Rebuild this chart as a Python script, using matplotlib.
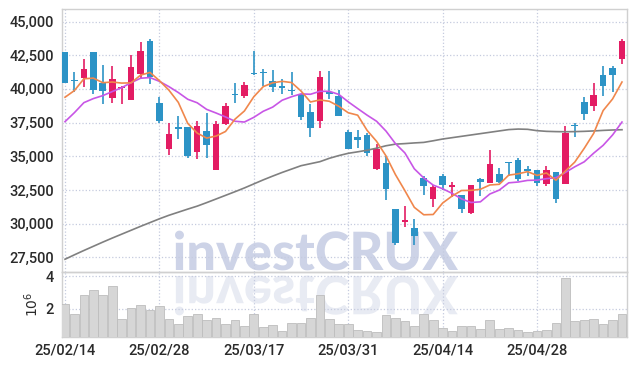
import numpy as np
import matplotlib
matplotlib.use('agg')
from matplotlib import pyplot as plt
from matplotlib.textpath import TextPath
from matplotlib.patches import PathPatch
from matplotlib.transforms import Affine2D
from matplotlib.font_manager import FontProperties

# ---------------------------- data ----------------------------
tick_pos = [0, 10, 20, 30, 40, 50]
tick_labels = ['25/02/14', '25/02/28', '25/03/17', '25/03/31', '25/04/14', '25/04/28']

opens = [42750, 40650, 40830, 42750, 40450, 39350, 40080, 39150, 41100, 43550,
         38950, 35550, 37150, 37200, 35350, 36900, 33950, 37400, 39650, 39500,
         41200, 41200, 40550, 40250, 39900, 39600, 38250, 37600, 39750, 39500,
         36800, 36400, 36550, 34050, 34500, 31100, 30150, 29650, 33400, 31800,
         33550, 32750, 32150, 30800, 33350, 33050, 33700, 34550, 34750, 34050,
         34000, 32950, 33850, 32950, 37300, 39000, 38700, 41050, 41550, 42250]
highs = [42750, 41250, 42200, 42750, 41750, 41700, 40200, 42550, 43450, 43700,
         39400, 37500, 38000, 37200, 37600, 38200, 37650, 38950, 40400, 40500,
         42800, 41500, 41400, 40750, 41250, 39650, 38900, 41350, 41350, 39950,
         36950, 36950, 36750, 35900, 35000, 31100, 31300, 30350, 33550, 32850,
         33700, 33100, 32150, 32900, 33400, 35500, 34100, 34550, 34850, 34300,
         34000, 34300, 33850, 37250, 37500, 39400, 40450, 41700, 41700, 43700]
lows = [40450, 39750, 40170, 39650, 38850, 38950, 38900, 39150, 40800, 40350,
        37450, 35100, 36250, 34850, 34800, 34900, 33950, 37350, 38950, 39300,
        41000, 40200, 39750, 39650, 39550, 37700, 36400, 37100, 39250, 38000,
        35550, 35650, 35050, 34000, 31750, 28400, 29750, 28400, 32150, 31250,
        32500, 31950, 30800, 30700, 32050, 33050, 33050, 33500, 33200, 33500,
        32800, 32800, 31500, 32950, 36400, 37700, 38350, 39500, 39800, 41850]
closes = [40450, 40550, 41480, 39950, 39850, 40700, 40150, 41600, 42800, 40850,
          37650, 36650, 37050, 35000, 37250, 35800, 37400, 38750, 39550, 40300,
          41100, 41150, 40150, 40100, 39850, 37950, 37100, 40900, 39600, 38000,
          35550, 36200, 35250, 35550, 32600, 28600, 30250, 29050, 32800, 32700,
          32850, 32850, 31100, 32850, 33100, 34450, 33100, 34500, 33350, 33900,
          33050, 34000, 31800, 36750, 37250, 38150, 39550, 40250, 41050, 43550]

ma5 = [39380, 39880, 40750, 40800, 40460, 40510, 40430, 40450, 41020, 41220,
       40610, 39910, 39000, 37440, 36720, 36350, 36500, 36840, 37750, 38360,
       39420, 40170, 40450, 40560, 40470, 39840, 39030, 39180, 39080, 38710,
       38230, 38050, 36920, 36110, 35030, 33640, 32450, 31210, 30660, 30680,
       31530, 32050, 32460, 32470, 32550, 32870, 32920, 33600, 33700, 33860,
       33580, 33760, 33220, 33900, 34570, 35590, 36700, 38390, 39250, 40510]
ma10 = [37570, 38240, 38980, 39280, 39500, 39800, 40090, 40460, 40790, 40840,
        40560, 40170, 39730, 39230, 38970, 38480, 38210, 37920, 37600, 37540,
        37890, 38340, 38650, 39160, 39420, 39630, 39600, 39820, 39820, 39590,
        39040, 38540, 38050, 37600, 36870, 35940, 35250, 34070, 33390, 32860,
        32590, 32250, 31840, 31570, 31620, 32200, 32490, 33030, 33090, 33210,
        33230, 33340, 33410, 33800, 34220, 34590, 35230, 35810, 36580, 37540]
ma60 = [27360, 27690, 28010, 28320, 28630, 28930, 29220, 29510, 29800, 30080,
        30360, 30620, 30850, 31080, 31300, 31560, 31830, 32100, 32370, 32650,
        32950, 33250, 33530, 33800, 34050, 34300, 34450, 34600, 34850, 35050,
        35220, 35330, 35450, 35600, 35780, 35900, 35940, 35990, 36030, 36150,
        36280, 36380, 36480, 36580, 36680, 36780, 36880, 36980, 37020, 37000,
        36900, 36850, 36830, 36820, 36830, 36850, 36880, 36920, 36950, 36970]

# volume in millions
volume = [2.31, 1.65, 2.82, 3.13, 2.82, 3.38, 1.38, 2.06, 2.21, 1.90,
          2.14, 1.38, 1.03, 1.53, 1.65, 1.32, 1.44, 1.07, 1.32, 0.91,
          1.65, 0.87, 0.97, 0.60, 1.13, 1.13, 1.44, 2.82, 1.38, 1.03,
          1.03, 0.66, 0.60, 0.54, 1.59, 1.44, 1.22, 0.91, 1.65, 1.32,
          0.82, 0.60, 0.91, 0.91, 0.72, 1.28, 0.72, 0.78, 0.66, 0.54,
          0.60, 0.66, 1.13, 3.88, 1.22, 1.32, 1.38, 1.07, 1.28, 1.69]

# ---------------------------- styles ----------------------------
RED = '#e31c63'
BLUE = '#2c93c6'
GRID = '#c5cbdf'
SPINE = '#d0d0d0'
TXT = '#2a2a2a'
plt.rcParams['font.family'] = ['Roboto', 'DejaVu Sans']
plt.rcParams['font.weight'] = 'medium'

o = np.array(opens, dtype=float)
c = np.array(closes, dtype=float)
h = np.array(highs, dtype=float)
l = np.array(lows, dtype=float)
x = np.arange(len(o))
up = c >= o
colors = np.where(up, RED, BLUE)

fig = plt.figure(figsize=(6.35, 3.66), dpi=100, facecolor='white')
ax = fig.add_axes([62/635, 1-272/366, 565/635, 263/366])
axv = fig.add_axes([62/635, 1-337/366, 565/635, 65/366], sharex=ax)

# watermark + reflection, drawn under the axes
tp = TextPath((0, 0), 'investCRUX', size=100,
              prop=FontProperties(family=['Lato', 'DejaVu Sans'], weight='black'))
bb = tp.get_extents()
sx = 283.0 / bb.width
sy = 38.0 / 72.0
tr = Affine2D().translate(-bb.x0, 0).scale(sx, sy).translate(175, 366 - 270)
fig.add_artist(PathPatch(tp, transform=tr, facecolor='#cdd3e7', edgecolor='none', zorder=-2))
tr2 = Affine2D().translate(-bb.x0, 0).scale(sx, -sy).translate(175, 366 - 276)
fig.add_artist(PathPatch(tp, transform=tr2, facecolor='#e8ebf3', edgecolor='none', zorder=-2))

for a in (ax, axv):
    a.set_facecolor('none')
    for s in a.spines.values():
        s.set_color(SPINE)
        s.set_linewidth(1.0)
    a.grid(True, color=GRID, linestyle=':', linewidth=0.9)
    a.set_axisbelow(True)
    a.tick_params(length=0, colors=TXT, labelsize=10.5)

# candles
ax.vlines(x, l, h, colors=colors, linewidth=1.2, zorder=3)
body_bottom = np.minimum(o, c)
body_h = np.maximum(np.abs(c - o), 70)
ax.bar(x, body_h, bottom=body_bottom, width=0.7, color=colors, zorder=4)

# moving averages
ax.plot(x, ma60, color='#808080', lw=1.2, zorder=5)
ax.plot(x, ma10, color='#c856e6', lw=1.2, zorder=5)
ax.plot(x, ma5, color='#f0874c', lw=1.2, zorder=5)

yt = [27500, 30000, 32500, 35000, 37500, 40000, 42500, 45000]
ax.set_ylim(26413, 45928)
ax.set_yticks(yt)
ax.set_yticklabels(['{:,}'.format(v) for v in yt])
ax.set_xlim(-0.32, 59.53)
ax.set_xticks(tick_pos)
ax.tick_params(labelbottom=False, pad=6)

# volume
axv.bar(x, volume, width=0.92, color='#d6d6d6', edgecolor='#bdbdbd', linewidth=0.6, zorder=3)
axv.set_ylim(0.25, 4.26)
axv.set_yticks([2, 4])
axv.set_yticklabels(['2', '4'])
axv.set_ylabel(r'$10^6$', color=TXT, fontsize=10, labelpad=3)
axv.set_xticks(tick_pos)
axv.set_xticklabels(tick_labels)
axv.tick_params(axis='x', pad=5)
axv.tick_params(axis='y', pad=6)

fig.savefig('out.png', dpi=100, facecolor='white')
